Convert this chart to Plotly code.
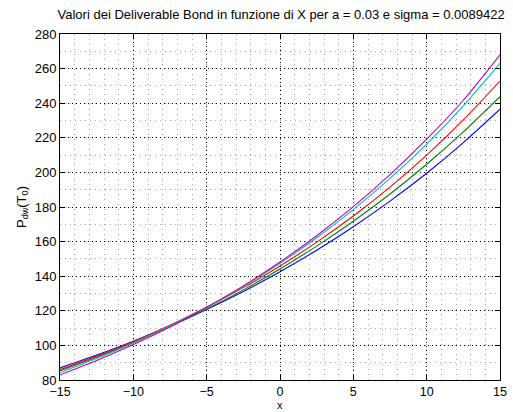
import plotly.graph_objects as go

# Values of the deliverable bonds as a function of X
x_vals = [-15, -12.5, -10, -7.5, -5, -2.5, 0, 2.5, 5, 7.5, 10, 12.5, 15]

blue_vals = [87.0, 94.4, 102.4, 111.2, 120.8, 131.2, 142.6, 155.0, 168.6, 183.4, 199.5, 217.2, 236.5]
green_vals = [85.3, 93.1, 101.6, 110.9, 121.0, 132.1, 144.2, 157.4, 171.8, 187.5, 204.7, 223.4, 243.8]
red_vals = [86.0, 93.8, 102.3, 111.7, 122.0, 133.4, 145.9, 159.7, 174.8, 191.5, 210.0, 230.3, 252.8]
cyan_vals = [84.3, 92.4, 101.4, 111.2, 122.1, 134.2, 147.5, 162.2, 178.5, 196.5, 216.4, 238.5, 263.0]
magenta_vals = [83.0, 91.3, 100.5, 110.7, 122.0, 134.4, 148.2, 163.4, 180.2, 198.7, 219.2, 241.7, 268.0]

x_ticks = [-15, -10, -5, 0, 5, 10, 15]
y_ticks = [80, 100, 120, 140, 160, 180, 200, 220, 240, 260, 280]

series = [
    (blue_vals, "#0000ff"),
    (green_vals, "#008000"),
    (red_vals, "#ff0000"),
    (cyan_vals, "#00bfbf"),
    (magenta_vals, "#bf00bf"),
]

fig = go.Figure()
for vals, col in series:
    fig.add_trace(go.Scatter(
        x=x_vals, y=vals, mode="lines",
        line=dict(color=col, width=1.1, shape="spline", smoothing=0.6),
        showlegend=False, hoverinfo="skip",
    ))

font_family = "Liberation Sans, Arial, Helvetica, sans-serif"

axis_common = dict(
    showline=True, linecolor="black", linewidth=1, mirror="allticks",
    ticks="inside", ticklen=5, tickcolor="black", tickwidth=1,
    showgrid=True, gridcolor="black", gridwidth=1, griddash="1px,3px",
    zeroline=False, automargin=False,
)

fig.update_xaxes(
    range=[-15, 15], tickvals=x_ticks,
    tickfont=dict(family=font_family, size=12.5, color="black"),
    minor=dict(dtick=1, tick0=0, showgrid=True, gridcolor="#a8a8a8",
               griddash="1px,4px", gridwidth=1, ticks=""),
    **axis_common,
)
fig.update_yaxes(
    range=[80, 280], tickvals=y_ticks,
    tickfont=dict(family=font_family, size=13, color="black"),
    minor=dict(dtick=10, tick0=0, showgrid=True, gridcolor="#a8a8a8",
               griddash="1px,4px", gridwidth=1, ticks=""),
    title=dict(text="P<sub>dw</sub>(T<sub>0</sub>)",
               font=dict(family=font_family, size=13, color="black"),
               standoff=5),
    **axis_common,
)

# x-axis label placed just under the tick labels
fig.add_annotation(
    text="x", xref="paper", yref="paper", x=0.5, y=0,
    xanchor="center", yanchor="top", yshift=-18, borderpad=0,
    showarrow=False,
    font=dict(family=font_family, size=11, color="black"),
)

fig.update_layout(
    width=513, height=412,
    margin=dict(l=60, r=13, t=34, b=32),
    paper_bgcolor="white", plot_bgcolor="white",
    title=dict(
        text="Valori dei Deliverable Bond in funzione di X per a = 0.03 e sigma = 0.0089422",
        font=dict(family=font_family, size=13, color="black"),
        x=0.548, xanchor="center", y=0.966, yanchor="middle",
    ),
)

fig.write_html("out.html")
